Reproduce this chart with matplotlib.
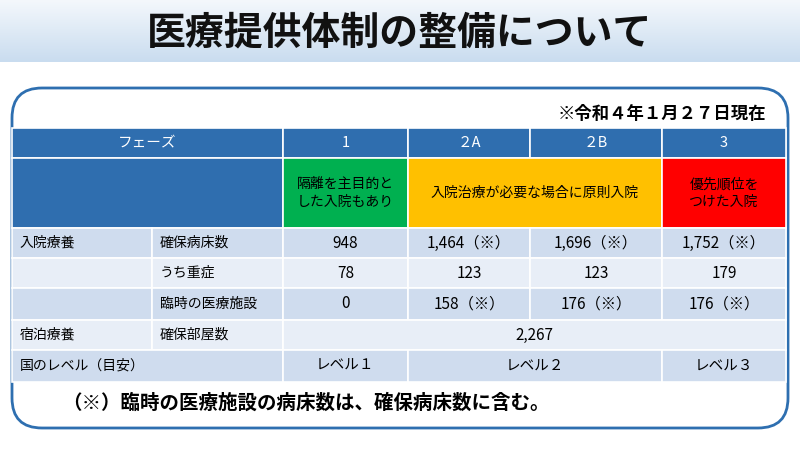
import matplotlib.pyplot as plt
from matplotlib.patches import Rectangle, FancyBboxPatch
import numpy as np

plt.rcParams['font.family'] = 'Noto Sans CJK JP'

title = '医療提供体制の整備について'
date_note = '※令和４年１月２７日現在'
footnote = '（※）臨時の医療施設の病床数は、確保病床数に含む。'

phases = ['1', '２A', '２B', '3']
phase_desc = ['隔離を主目的と\nした入院もあり', '入院治療が必要な場合に原則入院', '優先順位を\nつけた入院']
row_groups = ['入院療養', '', '', '宿泊療養', '国のレベル（目安）']
row_items = ['確保病床数', 'うち重症', '臨時の医療施設', '確保部屋数', '']
beds = ['948', '1,464（※）', '1,696（※）', '1,752（※）']
severe = ['78', '123', '123', '179']
temp_facility = ['0', '158（※）', '176（※）', '176（※）']
hotel_rooms = '2,267'
levels = ['レベル１', 'レベル２', 'レベル３']

fig = plt.figure(figsize=(8, 4.5), dpi=100)
ax = fig.add_axes([0, 0, 1, 1])
ax.set_xlim(0, 800)
ax.set_ylim(450, 0)
ax.axis('off')

# title band (gradient)
grad = np.linspace(0, 1, 256).reshape(-1, 1)
ax.imshow(grad, extent=[0, 800, 62, 0], cmap=plt.matplotlib.colors.LinearSegmentedColormap.from_list(
    'g', ['#f4f8fc', '#c9dcef']), aspect='auto', zorder=0)
ax.text(400, 33, title, ha='center', va='center', fontsize=28, fontweight='bold', color='#111111')

box = FancyBboxPatch((12, 88), 776, 340, boxstyle='round,pad=0,rounding_size=30',
                     fc='white', ec='#2e6fb0', lw=2, zorder=1)
ax.add_patch(box)
ax.text(766, 114, date_note, ha='right', va='center', fontsize=12.5, fontweight='bold')

xs = [12, 152, 283, 408, 530, 662, 786]
ys = [128, 158, 228, 258, 288, 320, 350, 382]
dark = '#2f6eaf'
light = '#cfdcee'
lighter = '#e8eef7'


def cell(x0, x1, y0, y1, fc, text='', color='black', fs=10.5, ha='center'):
    ax.add_patch(Rectangle((x0, y0), x1 - x0, y1 - y0, fc=fc, ec='white', lw=1.2, zorder=2))
    if text:
        tx = (x0 + x1) / 2 if ha == 'center' else x0 + 8
        ax.text(tx, (y0 + y1) / 2, text, ha=ha, va='center', fontsize=fs, color=color, zorder=3,
                linespacing=1.3)


# header
cell(xs[0], xs[2], ys[0], ys[1], dark, 'フェーズ', 'white')
for i, p in enumerate(phases):
    cell(xs[i + 2], xs[i + 3], ys[0], ys[1], dark, p, 'white')
cell(xs[0], xs[2], ys[1], ys[2], dark)
cell(xs[2], xs[3], ys[1], ys[2], '#00b050', phase_desc[0], fs=10)
cell(xs[3], xs[5], ys[1], ys[2], '#ffc000', phase_desc[1], fs=10)
cell(xs[5], xs[6], ys[1], ys[2], '#ff0000', phase_desc[2], fs=10)

fills = [light, lighter, light, lighter, light]
for r in range(5):
    y0, y1 = ys[r + 2], ys[r + 3]
    fc = fills[r]
    if r == 4:
        cell(xs[0], xs[2], y0, y1, fc, row_groups[r], ha='left', fs=10)
    else:
        cell(xs[0], xs[1], y0, y1, fc, row_groups[r], ha='left', fs=10)
        cell(xs[1], xs[2], y0, y1, fc, row_items[r], ha='left', fs=10)
    if r < 3:
        vals = [beds, severe, temp_facility][r]
        for i, v in enumerate(vals):
            cell(xs[i + 2], xs[i + 3], y0, y1, fc, v, fs=11)
    elif r == 3:
        cell(xs[2], xs[6], y0, y1, fc, hotel_rooms, fs=11)
    else:
        cell(xs[2], xs[3], y0, y1, fc, levels[0], fs=10.5)
        cell(xs[3], xs[5], y0, y1, fc, levels[1], fs=10.5)
        cell(xs[5], xs[6], y0, y1, fc, levels[2], fs=10.5)

ax.text(62, 403, footnote, ha='left', va='center', fontsize=14, fontweight='bold')

fig.savefig('out.png', dpi=100)
